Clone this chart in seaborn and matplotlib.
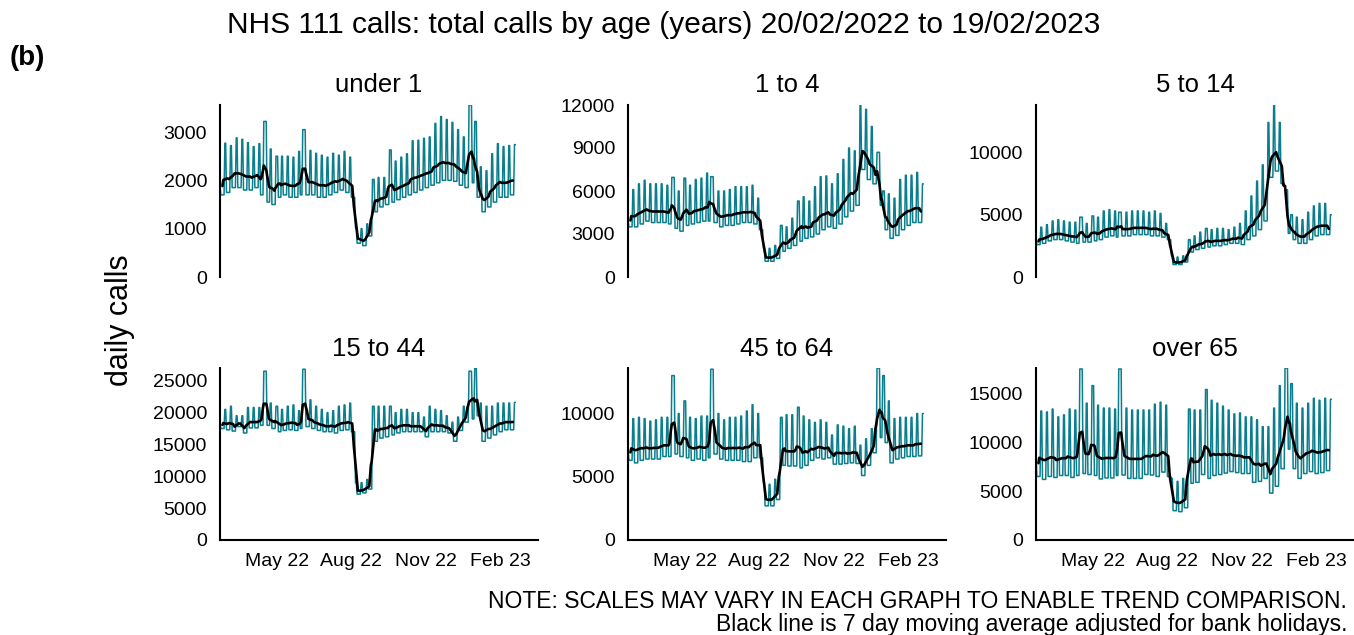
import numpy as np
import pandas as pd
import matplotlib
matplotlib.use("Agg")
import matplotlib.pyplot as plt
import matplotlib.dates as mdates
from matplotlib.ticker import MultipleLocator
import seaborn as sns

# daily series run from Sun 20/02/2022 to Sun 19/02/2023
start_date = "2022-02-20"
n_days = 365

panel_titles = ["under 1", "1 to 4", "5 to 14", "15 to 44", "45 to 64", "over 65"]
y_steps = [1000, 3000, 5000, 5000, 5000, 5000]

# weekly values, week k runs Sat..Fri
# *_peak = weekend (Sat/Sun) level, *_low = weekday (Mon-Fri) level
under1_peak = [1900, 2770, 2720, 2880, 2850, 2780, 2700, 2760, 3220, 2650, 2500, 2500, 2500, 2480,
               2600, 3050, 2620, 2560, 2520, 2480, 2560, 2520, 2600, 2480, 1020, 1000, 1100, 2020,
               2060, 2060, 2630, 2400, 2480, 2550, 2820, 2830, 2870, 2900, 3180, 3320, 3260, 3200,
               3050, 2900, 3560, 3220, 2280, 2200, 2550, 2760, 2700, 2720, 2740]
under1_low = [1700, 1750, 1850, 1850, 1800, 1800, 1850, 1700, 1550, 1500, 1650, 1700, 1650, 1650,
              1700, 1700, 1700, 1650, 1650, 1700, 1750, 1800, 1750, 1650, 700, 650, 850, 1350,
              1450, 1500, 1550, 1600, 1650, 1700, 1750, 1800, 1850, 1900, 1950, 2000, 2000, 1980,
              1900, 1850, 1950, 1650, 1350, 1450, 1550, 1650, 1650, 1700, 1750]

age1_4_peak = [4000, 6100, 6500, 6750, 6500, 6500, 6500, 6400, 6950, 6000, 6900, 6400, 6800, 6900,
               7250, 7000, 6000, 6000, 6100, 6300, 6300, 6300, 6400, 5500, 2000, 2000, 2200, 3600,
               3500, 4100, 5300, 5600, 5300, 6300, 7000, 7050, 6500, 7200, 8200, 9000, 8800, 12000,
               11700, 10500, 8700, 6000, 5800, 5500, 6800, 7100, 7100, 7300, 6500]
age1_4_low = [3500, 3500, 3700, 3900, 3800, 3800, 3800, 3700, 3400, 3200, 3600, 3700, 3800, 3900,
              3900, 3800, 3500, 3600, 3600, 3700, 3800, 3800, 3700, 3300, 1100, 1100, 1300, 1800,
              2000, 2200, 2500, 2700, 2800, 3000, 3300, 3500, 3400, 3700, 4200, 4600, 5000, 7500,
              6800, 6500, 5000, 3300, 2700, 2900, 3300, 3600, 3800, 3800, 3600]

age5_14_peak = [3000, 4000, 4200, 4500, 4600, 4500, 4400, 4400, 4800, 4300, 4900, 4800, 5300, 5400,
                5300, 5200, 5200, 5300, 5300, 5300, 5200, 5300, 5100, 4300, 1700, 1600, 1700, 3000,
                3300, 3600, 3900, 3800, 3900, 3900, 3800, 4000, 4300, 5300, 6500, 7700, 9000, 12400,
                13800, 12400, 7000, 5000, 4800, 4600, 5200, 5700, 5900, 5900, 5000]
age5_14_low = [2600, 2700, 2900, 3000, 3000, 2900, 2800, 2700, 2800, 2800, 2900, 3000, 3200, 3300,
               3200, 3300, 3300, 3400, 3400, 3400, 3300, 3300, 3200, 3000, 1000, 1000, 1200, 2000,
               2200, 2300, 2400, 2500, 2500, 2600, 2700, 2700, 2600, 3000, 3300, 3800, 4500, 8000,
               8500, 7500, 3500, 3000, 2700, 2700, 3000, 3300, 3400, 3400, 3000]

age15_44_peak = [18500, 20500, 21000, 19500, 19500, 20800, 20800, 20800, 26500, 21500, 21000, 20500,
                 21000, 21200, 20300, 26800, 22000, 21000, 20500, 20000, 20300, 21000, 21200, 21500,
                 9000, 9000, 9500, 21000, 21000, 21000, 21000, 20000, 20500, 20500, 20000, 20000,
                 19300, 21000, 20500, 20300, 19500, 18500, 19300, 21000, 26500, 27000, 21500, 21000,
                 21000, 21500, 21500, 21500, 21600]
age15_44_low = [17500, 17300, 17100, 17800, 16800, 17600, 17600, 18000, 18000, 17500, 17000, 17200,
                17300, 17200, 17500, 17800, 17500, 17200, 17000, 17000, 16800, 17200, 17300, 17000,
                7200, 7400, 8000, 15500, 16000, 16200, 16500, 16800, 17000, 17000, 17000, 17000,
                16200, 17000, 17000, 17000, 16800, 15500, 17200, 18500, 19000, 19500, 15500, 16000,
                16500, 17000, 17300, 17300, 17300]

age45_64_peak = [7400, 9600, 9700, 9600, 9400, 9500, 9700, 9700, 13000, 10000, 11000, 9700, 9600,
                 9800, 9800, 13500, 10000, 9500, 9700, 9700, 9800, 10200, 10700, 10000, 4600, 4400,
                 4800, 9700, 9900, 9900, 10500, 9800, 9500, 9300, 9500, 9300, 8300, 9100, 9000, 8800,
                 9000, 7500, 8000, 8800, 13600, 13000, 11000, 9600, 9700, 9700, 9700, 10000, 10000]
age45_64_low = [6300, 6100, 6300, 6400, 6400, 6400, 6600, 6600, 6800, 6600, 6500, 6300, 6400, 6300,
                6500, 6800, 6400, 6300, 6300, 6300, 6200, 6200, 6500, 6500, 2700, 2700, 3200, 5900,
                5850, 5850, 5700, 5900, 6300, 6500, 6400, 6500, 6000, 6000, 6050, 6100, 6050, 5100,
                5900, 6900, 8100, 7700, 6100, 6400, 6500, 6600, 6600, 6650, 6650]

over65_peak = [9300, 13200, 13100, 13400, 12600, 12800, 13400, 13300, 17500, 14000, 15800, 13800,
               13500, 13500, 13400, 17500, 13500, 13300, 13300, 13300, 13300, 13900, 14100, 13800,
               6300, 6000, 6300, 13400, 13300, 13300, 15400, 14300, 14000, 13700, 13300, 12900,
               13000, 12600, 12600, 12300, 11600, 11600, 13500, 15800, 17600, 16000, 14000, 13500,
               14000, 14500, 14300, 14500, 14400]
over65_low = [6500, 6200, 6500, 6400, 6600, 6600, 6400, 6600, 6800, 6700, 6600, 6250, 6350, 6350,
              6600, 6650, 6300, 6300, 6300, 6700, 6650, 6500, 6950, 6500, 3000, 2900, 3300, 5800,
              5900, 6700, 6300, 6600, 6700, 6850, 7000, 6900, 6800, 6800, 5900, 6000, 6300, 4800,
              5500, 7300, 9300, 7300, 6300, 6800, 7000, 6800, 6900, 7100, 7400]

# weekday bank holidays take the level of the nearest weekend
bank_holidays = ["2022-04-15", "2022-04-18", "2022-05-02", "2022-06-02", "2022-06-03",
                 "2022-08-29", "2022-09-19", "2022-12-26", "2022-12-27", "2023-01-02"]

weekly_series = [
    (under1_peak, under1_low),
    (age1_4_peak, age1_4_low),
    (age5_14_peak, age5_14_low),
    (age15_44_peak, age15_44_low),
    (age45_64_peak, age45_64_low),
    (over65_peak, over65_low),
]

TEAL = "#0A7E8C"
W, H = 1354, 635


def build_daily(peak, low):
    dates = pd.date_range(start_date, periods=n_days, freq="D")
    hols = set(pd.to_datetime(bank_holidays))
    calls = []
    is_hol = []
    for d, dt in enumerate(dates):
        wk = (d + 1) // 7
        is_hol.append(dt in hols)
        if dt.dayofweek >= 5:
            calls.append(peak[wk])
        elif dt in hols:
            calls.append(peak[wk + 1] if dt.dayofweek >= 3 else peak[wk])
        else:
            calls.append(low[wk])
    df = pd.DataFrame({"date": dates, "calls": calls, "hol": is_hol})
    # moving average with bank holidays left out
    adj = df["calls"].where(~df["hol"])
    df["ma"] = adj.rolling(7, center=True, min_periods=5).mean()
    df.loc[:2, "ma"] = np.nan
    df.loc[n_days - 3:, "ma"] = np.nan
    return df


sns.set_style("white")
plt.rcParams["font.family"] = ["Liberation Sans", "DejaVu Sans"]
plt.rcParams["text.color"] = "black"
plt.rcParams["xtick.color"] = "black"
plt.rcParams["ytick.color"] = "black"

fig = plt.figure(figsize=(W / 100, H / 100), dpi=100)

col_left = [220, 628, 1036]
row_top = [105, 368]
ax_w, ax_h = 318, 172

for i, (title, (peak, low)) in enumerate(zip(panel_titles, weekly_series)):
    r, c = divmod(i, 3)
    ax = fig.add_axes([col_left[c] / W, 1 - (row_top[r] + ax_h) / H, ax_w / W, ax_h / H])
    df = build_daily(peak, low)

    sns.lineplot(data=df, x="date", y="calls", ax=ax, color=TEAL, linewidth=1.1, estimator=None)
    sns.lineplot(data=df.dropna(subset=["ma"]), x="date", y="ma", ax=ax, color="black",
                 linewidth=1.9, estimator=None)

    ax.set_xlim(pd.Timestamp("2022-02-20"), pd.Timestamp("2023-03-19"))
    ax.set_ylim(0, df["calls"].max())
    ax.yaxis.set_major_locator(MultipleLocator(y_steps[i]))
    ax.set_xlabel("")
    ax.set_ylabel("")
    ax.set_title(title, fontsize=18.5, pad=9)

    for s in ["top", "right"]:
        ax.spines[s].set_visible(False)
    ax.spines["left"].set_color("black")
    ax.spines["left"].set_linewidth(1.5)
    ax.tick_params(axis="y", length=4.3, width=1.4, color="#333333", labelsize=14, pad=5)

    if r == 0:
        ax.spines["bottom"].set_visible(False)
        ax.set_xticks([])
    else:
        ax.spines["bottom"].set_color("black")
        ax.spines["bottom"].set_linewidth(1.5)
        ax.xaxis.set_major_locator(mdates.MonthLocator(bymonth=[2, 5, 8, 11]))
        ax.xaxis.set_major_formatter(mdates.DateFormatter("%b %y"))
        ax.tick_params(axis="x", length=4.3, width=1.4, color="#333333", labelsize=14, pad=5)

fig.text(664 / W, 1 - 25 / H, "NHS 111 calls: total calls by age (years) 20/02/2022 to 19/02/2023",
         ha="center", va="center", fontsize=21.5)
fig.text(10 / W, 1 - 58 / H, "(b)", ha="left", va="center", fontsize=20, fontweight="bold")
fig.text(120 / W, 1 - 320 / H, "daily calls", rotation=90, ha="center", va="center", fontsize=22)
fig.text(1347 / W, 1 - 602 / H, "NOTE: SCALES MAY VARY IN EACH GRAPH TO ENABLE TREND COMPARISON.",
         ha="right", va="center", fontsize=16.5)
fig.text(1347 / W, 1 - 625 / H, "Black line is 7 day moving average adjusted for bank holidays.",
         ha="right", va="center", fontsize=16.5)

fig.savefig("out.png", dpi=100)
